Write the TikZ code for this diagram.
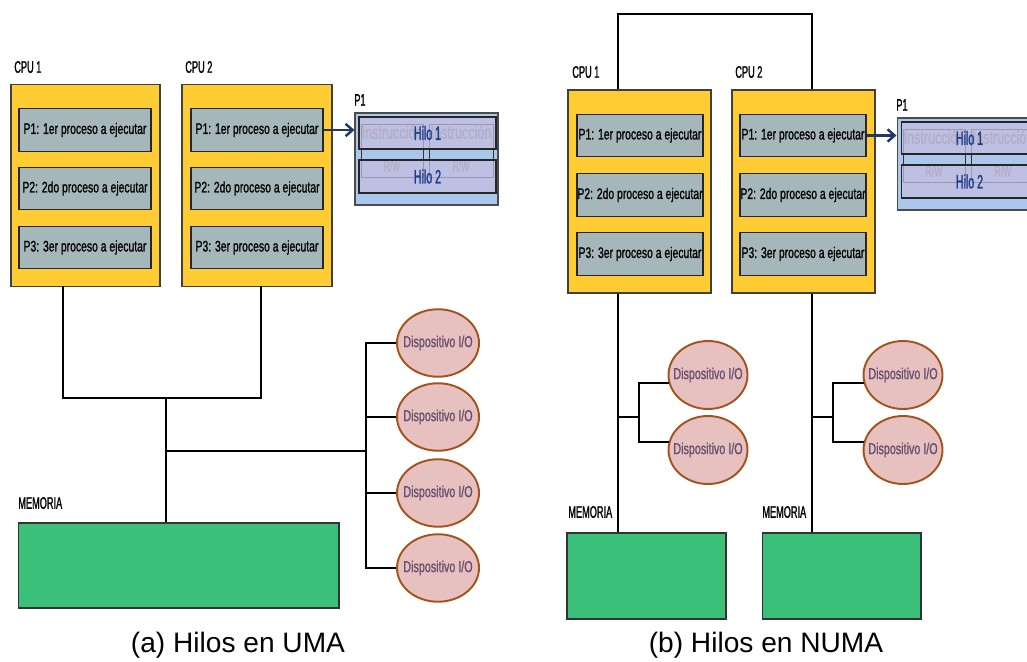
\documentclass[tikz,border=0pt]{standalone}
\usepackage{fontspec}
\setmainfont{Liberation Sans}
\newfontfamily\narrowfont[FakeStretch=0.68,FakeBold=1]{Liberation Sans}
\newfontfamily\condfont[FakeStretch=0.55,FakeBold=1.2]{Liberation Sans}
\usetikzlibrary{arrows.meta,shapes.geometric,calc,positioning}

\definecolor{cpuyellow}{RGB}{255,204,51}
\definecolor{procgray}{RGB}{166,183,187}
\definecolor{iopink}{RGB}{231,192,192}
\definecolor{iobrown}{RGB}{163,84,30}
\definecolor{iotext}{RGB}{105,80,110}
\definecolor{memgreen}{RGB}{58,192,120}
\definecolor{p1blue}{RGB}{170,200,235}
\definecolor{hilolila}{RGB}{198,190,225}
\definecolor{hiloblue}{RGB}{30,60,140}
\definecolor{arrownavy}{RGB}{31,56,100}

\begin{document}
\begin{tikzpicture}[x=0.02cm,y=-0.02cm,
  lbl/.style={font=\condfont\fontsize{9.5}{10}\selectfont,anchor=west,inner sep=0pt},
  cpubox/.style={draw=black!75,fill=cpuyellow,line width=0.6pt,minimum height=4.04cm},
  procbox/.style={draw=black!85,fill=procgray,line width=0.6pt,minimum height=0.85cm,inner sep=0pt,font=\narrowfont\fontsize{8.7}{9}\selectfont},
  iodev/.style={ellipse,draw=iobrown,fill=iopink,line width=1.1pt,inner sep=0pt,minimum width=1.64cm,minimum height=1.35cm,text=iotext,font=\narrowfont\fontsize{9}{10}\selectfont},
  membox/.style={draw=black!80,fill=memgreen,line width=0.6pt},
  p1box/.style={draw=black!70,fill=p1blue,line width=0.6pt,minimum width=2.86cm,minimum height=1.84cm},
  instbox/.style={draw=black!80,fill=p1blue,line width=0.5pt,minimum height=1.06cm},
  insttxt/.style={inner sep=0pt,text=black!50,font=\narrowfont\fontsize{10.5}{11}\selectfont},
  rwtxt/.style={inner sep=0pt,text=black!50,font=\condfont\fontsize{9}{10}\selectfont},
  hilobox/.style={draw=black!85,fill=hilolila,fill opacity=0.72,text opacity=1,line width=0.6pt,minimum width=2.74cm,inner sep=0pt,text=hiloblue,font=\condfont\fontsize{11}{12}\selectfont},
  bus/.style={line width=1pt},
  toarrow/.style={-{Straight Barb[length=4pt,width=7pt]},line width=1.4pt,draw=arrownavy}]

\clip (0,0) rectangle (1027,662);

% ---- (a) UMA
\node[cpubox,minimum width=2.98cm] (cpu1a) at (85.5,185.5) {};
\node[cpubox,minimum width=3.0cm] (cpu2a) at (257,185.5) {};
\node[lbl] (lcpu1a) at (14,67) {CPU 1};
\node[lbl] (lcpu2a) at (185,67) {CPU 2};

\foreach \k/\y/\ord in {1/130/1er,2/188.5/2do,3/247.5/3er}
{\node[procbox,minimum width=2.64cm] (pa1\k) at (85,\y) {P\k: \ord\ proceso a ejecutar};
 \node[procbox,minimum width=2.64cm] (pa2\k) at (257,\y) {P\k: \ord\ proceso a ejecutar};}

\coordinate (b1a) at (63,286);
\coordinate (b2a) at (261,286);
\coordinate (joinA) at (166,398);
\coordinate (memtopA) at (166,523);
\coordinate (ioA) at (366,451);

\draw[bus] (b1a) |- (b2a |- joinA) -- (b2a);
\draw[bus] (joinA) -- (memtopA);
\draw[bus] (joinA |- ioA) -- (ioA);

\foreach \k/\y in {1/343,2/417,3/493,4/568}
{\draw[bus] (ioA) |- (438,\y) coordinate (ioc\k);
 \node[iodev] (ioa\k) at (ioc\k) {\makebox[0.8cm]{Dispositivo I/O}};}

\node[lbl] (lmema) at (18,503) {MEMORIA};
\node[membox,minimum width=6.42cm,minimum height=1.7cm] (mema) at (178.5,565.5) {};

% ---- P1 con hilos, en los dos dibujos
\foreach \n/\dx/\dy in {a/0/0,b/542/5}
{\begin{scope}[shift={(\dx,\dy)}]
 \node[lbl] (lp\n) at (354,100) {P1};
 \node[p1box] (p1\n) at (426.5,159) {};
 \node[instbox,minimum width=1.24cm] (ia\n) at (392,150.5) {};
 \node[instbox,minimum width=1.28cm] (ib\n) at (461,150.5) {};
 \node[insttxt] (tia\n) at (392,132) {Instrucción};
 \node[insttxt] (tib\n) at (461,132) {Instrucción};
 \node[rwtxt] (rwa\n) at (392,166) {R/W};
 \node[rwtxt] (rwb\n) at (461,166) {R/W};
 \node[hilobox,minimum height=0.64cm] (h1\n) at (427.5,133) {Hilo 1};
 \node[hilobox,minimum height=0.66cm] (h2\n) at (427.5,176.5) {Hilo 2};
 \end{scope}}

\draw[toarrow] (pa21.east) -- (pa21.east -| p1a.west);

% ---- (b) NUMA
\node[cpubox,minimum width=2.86cm,minimum height=4.06cm] (cpu1b) at (639.5,191.5) {};
\node[cpubox,minimum width=2.86cm,minimum height=4.06cm] (cpu2b) at (803.5,191.5) {};
\node[lbl] (lcpu1b) at (572,72) {CPU 1};
\node[lbl] (lcpu2b) at (735,72) {CPU 2};

\foreach \k/\y/\ord in {1/135.5/1er,2/195/2do,3/254/3er}
{\node[procbox,minimum width=2.52cm] (pb1\k) at (640,\y) {P\k: \ord\ proceso a ejecutar};
 \node[procbox,minimum width=2.52cm] (pb2\k) at (803,\y) {P\k: \ord\ proceso a ejecutar};}

\coordinate (t1b) at (618,14);
\coordinate (t2b) at (812,14);
\coordinate (m1b) at (618,533);
\coordinate (m2b) at (812,533);

\draw[bus] (cpu1b.north -| t1b) -- (t1b) -- (t2b) -- (cpu2b.north -| t2b);
\draw[line width=0.8pt] (cpu1b.south -| m1b) -- (m1b);
\draw[line width=0.8pt] (cpu2b.south -| m2b) -- (m2b);

\foreach \s/\xl/\xs/\xe in {1/618/639/708,2/812/833/903}
{\coordinate (from\s) at (\xl,417);
 \coordinate (sp\s) at (\xs,417);
 \node[iodev,minimum width=1.58cm,minimum height=1.36cm] (iob\s1) at (\xe,375) {\makebox[0.8cm]{Dispositivo I/O}};
 \node[iodev,minimum width=1.58cm,minimum height=1.36cm] (iob\s2) at (\xe,450) {\makebox[0.8cm]{Dispositivo I/O}};
 \draw[bus] (from\s) -- (sp\s);
 \draw[bus] (sp\s) |- (iob\s1.192);
 \draw[bus] (sp\s) |- (iob\s2.168);}

\node[lbl] (lmem1b) at (568,512) {MEMORIA};
\node[lbl] (lmem2b) at (762,512) {MEMORIA};
\node[membox,minimum width=3.18cm,minimum height=1.72cm] (mem1b) at (646.5,576) {};
\node[membox,minimum width=3.18cm,minimum height=1.72cm] (mem2b) at (841.5,576) {};

\draw[toarrow] (pb21.east) -- (pb21.east -| p1b.west);

% ---- captions
\node[font=\fontsize{16}{18}\selectfont] (capa) at (238,645) {(a) Hilos en UMA};
\node[font=\fontsize{16}{18}\selectfont] (capb) at (766,645) {(b) Hilos en NUMA};

\end{tikzpicture}
\end{document}
